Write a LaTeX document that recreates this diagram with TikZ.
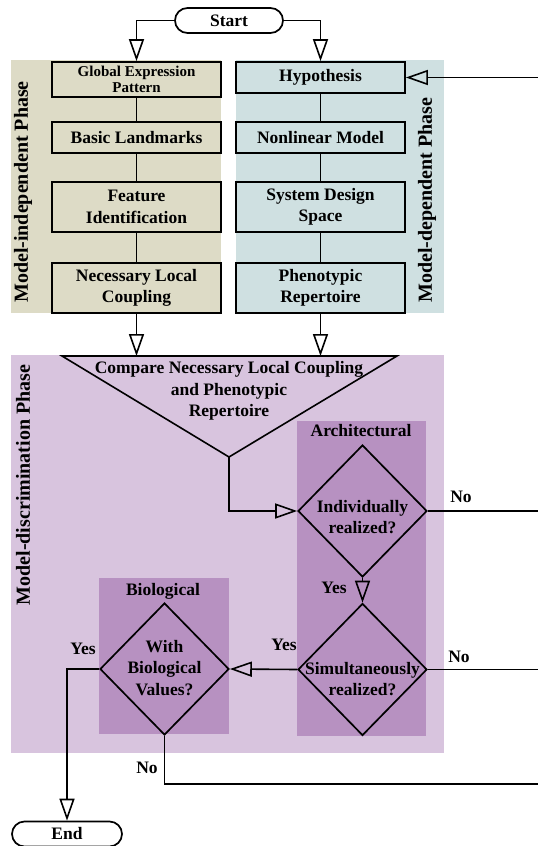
\documentclass[tikz,border=0pt]{standalone}
\usepackage{fontspec}
\setmainfont{Liberation Serif}
\usepackage{tikz}
\usetikzlibrary{positioning}
\usetikzlibrary{shapes.geometric, arrows.meta}
\definecolor{indepbg}{RGB}{221,219,198}
\definecolor{depbg}{RGB}{207,224,225}
\definecolor{discbg}{RGB}{216,196,222}
\definecolor{subbg}{RGB}{183,145,193}
\tikzstyle{arrow} = [line width=1.6pt,-{Triangle[open,length=22pt,width=15pt]}]
\tikzstyle{line} = [line width=1.6pt]
\tikzstyle{stepbox} = [draw,line width=1.7pt,minimum width=169pt,align=center,inner sep=2pt]
\tikzstyle{terminal} = [draw,line width=1.7pt,rounded corners=12.5pt,minimum height=25pt,inner sep=2pt]
\tikzstyle{decision} = [draw,diamond,line width=1.7pt,inner sep=0pt,minimum width=129pt,minimum height=132pt]
\tikzstyle{phase} = [rotate=90,font=\bfseries\fontsize{20}{24}\selectfont]

\begin{document}
\begin{tikzpicture}[x=1pt,y=-1pt,every node/.style={font=\bfseries\fontsize{17.5}{21.5}\selectfont}]
\useasboundingbox (0,0) rectangle (538,846);

%Phases
\fill[indepbg] (11,60) rectangle (221,313);
\fill[depbg] (236,60) rectangle (444,313);
\fill[discbg] (11,355) rectangle (444,753);
\fill[subbg] (297,421) rectangle (426,736);
\fill[subbg] (99,578) rectangle (229,734);
\node (indep) [phase] at (23,192) {Model-independent Phase};
\node (dep) [phase] at (427,200) {Model-dependent Phase};
\node (disc) [phase] at (23,485) {Model-discrimination Phase};

%Nodes
\node (start) [terminal,minimum width=108pt] at (229,20.5) {Start};
\node (glob) [stepbox,minimum height=35pt,font=\bfseries\fontsize{15}{16}\selectfont] at (136.5,79.5) {Global Expression\\Pattern};
\node (land) [stepbox,minimum height=31pt] at (136.5,137.5) {Basic Landmarks};
\node (feat) [stepbox,minimum height=50pt] at (136.5,207) {Feature\\Identification};
\node (nlc) [stepbox,minimum height=50pt] at (136.5,288) {Necessary Local\\Coupling};
\node (hyp) [stepbox,minimum height=31pt] at (320.5,77.5) {Hypothesis};
\node (nlm) [stepbox,minimum height=31pt] at (320.5,137.5) {Nonlinear Model};
\node (sds) [stepbox,minimum height=50pt] at (320.5,207) {System Design\\Space};
\node (rep) [stepbox,minimum height=50pt] at (320.5,288) {Phenotypic\\Repertoire};

\coordinate (cmpL) at (62,356);
\coordinate (cmpR) at (397,356);
\coordinate (cmpT) at (229,457);
\draw[line] (cmpL) -- (cmpR) -- (cmpT) -- cycle;
\node (cmp) [align=center] at (229,391) {Compare Necessary Local Coupling\\and Phenotypic\\Repertoire};

\node (arch) at (361,431) {Architectural};
\node (indiv) [decision] at (362.5,511) {};
\node (indivtxt) [align=center] at (362.5,517) {Individually\\realized?};
\node (simul) [decision] at (362.5,669.5) {};
\node (simultxt) [align=center] at (362.5,679) {Simultaneously\\realized?};
\node (bio) at (163,591) {Biological};
\node (bioval) [decision] at (164.5,669) {};
\node (biovaltxt) [align=center] at (164.5,668) {With\\Biological\\Values?};
\node (end) [terminal,minimum width=110pt] at (67,834) {End};

\node (yes1) at (334,588) {Yes};
\node (yes2) at (284,645) {Yes};
\node (yes3) at (83,649) {Yes};
\node (no1) at (461,497) {No};
\node (no2) at (459,657) {No};
\node (no3) at (147,768) {No};

\coordinate (fbHyp) at (538,77.5);
\coordinate (fbInd) at (538,511);
\coordinate (fbSim) at (538,669.5);
\coordinate (fbBio) at (538,784);

%Lines
\draw[arrow] (start.west) -| (glob.north);
\draw[arrow] (start.east) -| (hyp.north);
\draw[line] (glob) -- (land);
\draw[line] (land) -- (feat);
\draw[line] (feat) -- (nlc);
\draw[line] (hyp) -- (nlm);
\draw[line] (nlm) -- (sds);
\draw[line] (sds) -- (rep);
\draw[arrow] (fbHyp) -- (hyp.east);
\draw[arrow] (nlc.south) -- (nlc.south |- cmpL);
\draw[arrow] (rep.south) -- (rep.south |- cmpL);
\draw[arrow] (cmpT) |- (indiv.west);
\draw[arrow] (indiv.south) -- (simul.north);
\draw[arrow] (simul.west) -- (bioval.east);
\draw[arrow] (bioval.west) -| (end.north);
\draw[line] (indiv.east) -- (fbInd);
\draw[line] (simul.east) -- (fbSim);
\draw[line] (bioval.south) |- (fbBio);

\end{tikzpicture}
\end{document}
